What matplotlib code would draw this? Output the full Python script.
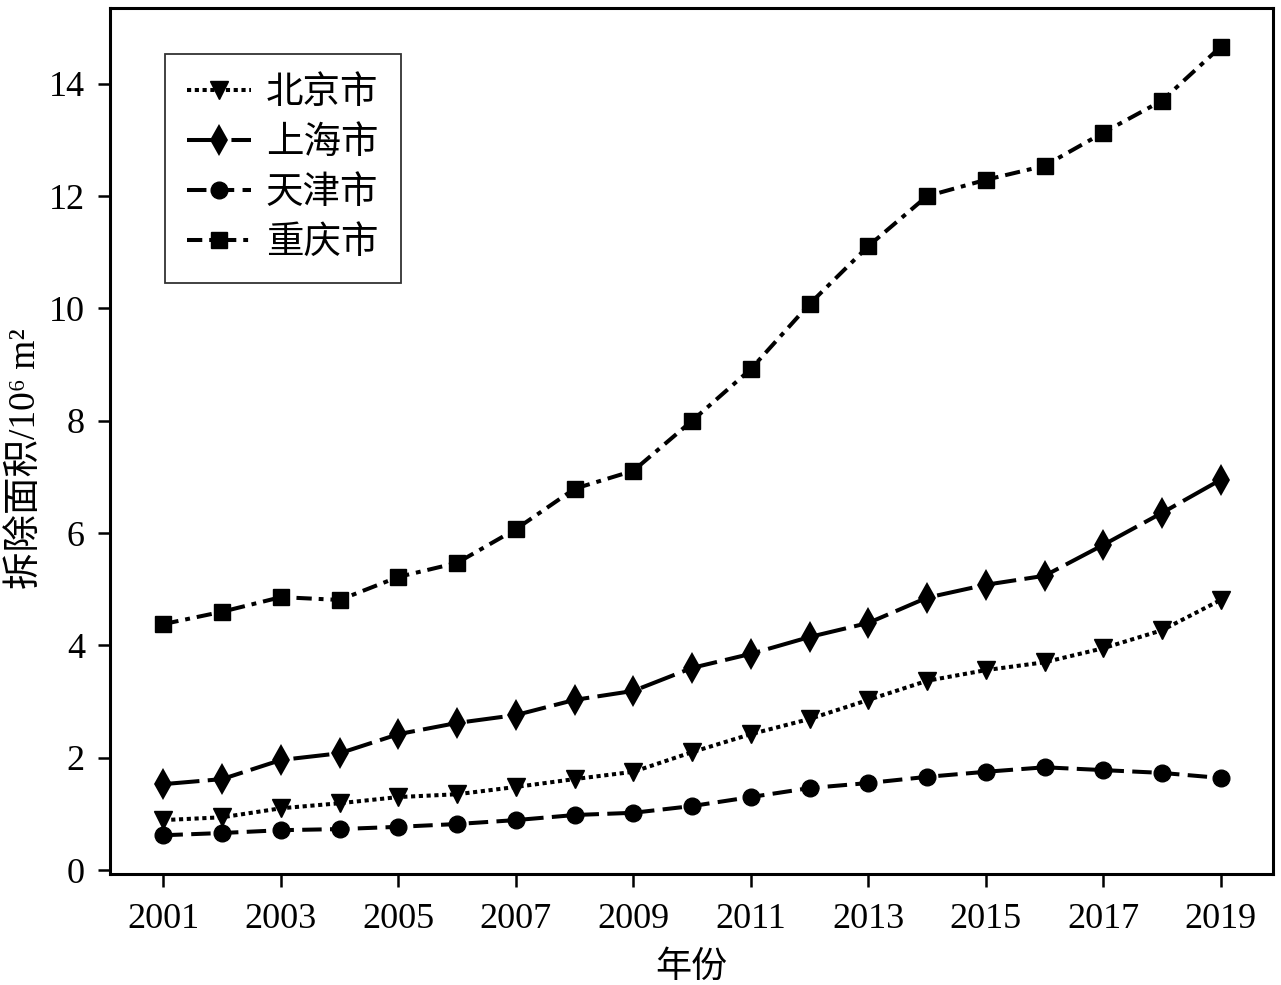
import matplotlib
matplotlib.use("Agg")
import matplotlib.pyplot as plt

plt.rcParams['font.family'] = ['Liberation Serif', 'Noto Sans CJK SC', 'DejaVu Serif']
plt.rcParams['lines.scale_dashes'] = False

years = list(range(2001, 2020))
beijing = [0.89, 0.94, 1.10, 1.19, 1.30, 1.35, 1.48, 1.62, 1.75, 2.10, 2.42, 2.69, 3.03, 3.37, 3.56, 3.70, 3.95, 4.27, 4.81]
shanghai = [1.53, 1.62, 1.96, 2.08, 2.42, 2.62, 2.76, 3.03, 3.19, 3.60, 3.85, 4.15, 4.40, 4.85, 5.08, 5.24, 5.79, 6.36, 6.95]
tianjin = [0.62, 0.66, 0.71, 0.73, 0.77, 0.82, 0.89, 0.98, 1.02, 1.14, 1.30, 1.46, 1.55, 1.66, 1.75, 1.83, 1.78, 1.73, 1.64]
chongqing = [4.38, 4.60, 4.86, 4.81, 5.22, 5.47, 6.07, 6.79, 7.11, 8.00, 8.92, 10.08, 11.11, 12.00, 12.29, 12.54, 13.13, 13.70, 14.66]
labels = ['北京市', '上海市', '天津市', '重庆市']
xticks = list(range(2001, 2020, 2))
yticks = list(range(0, 15, 2))

fig = plt.figure(figsize=(12.81, 9.85), dpi=100)
ax = fig.add_axes([110/1281, 1 - 874/985, 1163/1281, 866/985])

lw = 2.9
ax.plot(years, beijing, color='black', lw=lw, dashes=(3, 2.6), marker='v', ms=13, label=labels[0])
ax.plot(years, shanghai, color='black', lw=lw, dashes=(26, 6), marker='d', ms=16, mew=0, label=labels[1])
ax.plot(years, tianjin, color='black', lw=lw, dashes=(14, 6), marker='o', ms=12, label=labels[2])
ax.plot(years, chongqing, color='black', lw=lw, dashes=(11, 5, 3.5, 5), marker='s', ms=12, label=labels[3])

ax.set_xlim(2000.09, 2019.89)
ax.set_ylim(-0.07, 15.35)
ax.set_xticks(xticks)
ax.set_yticks(yticks)
ax.tick_params(axis='both', direction='out', length=9, width=1.8, labelsize=26, colors='black')
ax.tick_params(axis='y', pad=9)
ax.tick_params(axis='x', pad=12)
for s in ax.spines.values():
    s.set_linewidth(2.2)

ax.set_xlabel('年份', fontsize=26, labelpad=11)
ax.set_ylabel('拆除面积/10⁶ m²', fontsize=27)
ax.yaxis.set_label_coords(-0.058, 0.48)

leg = ax.legend(loc='upper left', bbox_to_anchor=(0.047, 0.947), borderaxespad=0,
                fontsize=27, frameon=True, fancybox=False, edgecolor='black',
                handlelength=1.7, labelspacing=0.4, borderpad=0.6, handletextpad=0.4)
leg.get_frame().set_linewidth(1.3)

fig.savefig('out.png', dpi=100, facecolor='white')
